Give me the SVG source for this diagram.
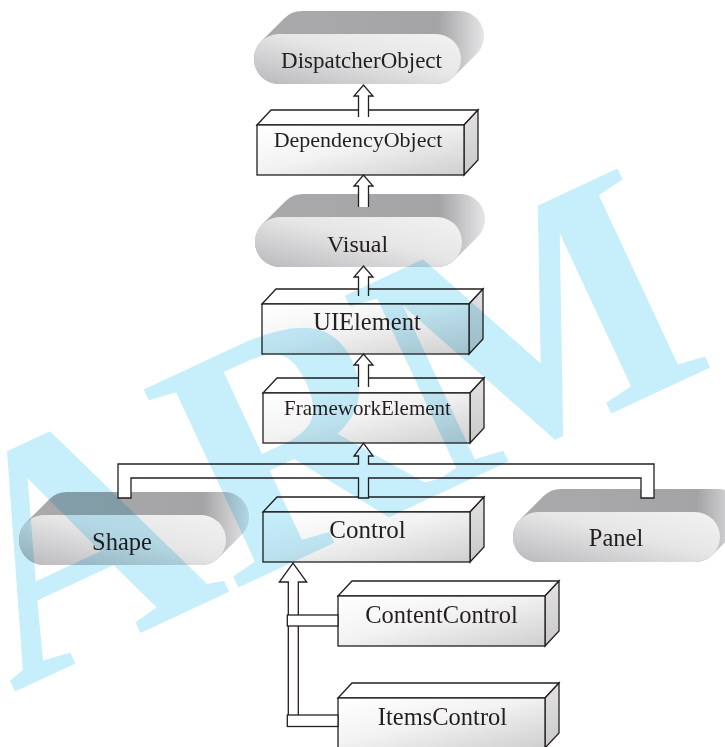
<svg xmlns="http://www.w3.org/2000/svg" width="725" height="747" viewBox="0 0 725 747">
<defs>
<style>
.lbl{font-family:"Liberation Serif","Times New Roman",serif;fill:#231f20;text-anchor:middle}
.edge{stroke:#231f20;stroke-width:1.3;stroke-linejoin:miter}
.conn{fill:#ffffff;stroke:#231f20;stroke-width:1.3;stroke-linejoin:miter}
.wm{font-family:"Liberation Serif","Times New Roman",serif;font-weight:bold;fill:#c6eefb;mix-blend-mode:multiply}
</style>
<linearGradient id="pillBack" x1="0" y1="0" x2="1" y2="0">
<stop offset="0" stop-color="#aaaaac"/>
<stop offset="0.8" stop-color="#a4a4a6"/>
<stop offset="1" stop-color="#e6e6e7"/>
</linearGradient>
<linearGradient id="pillFront" x1="0" y1="1" x2="1" y2="0">
<stop offset="0" stop-color="#b9b9bb"/>
<stop offset="0.55" stop-color="#e6e6e7"/>
<stop offset="1" stop-color="#f2f2f2"/>
</linearGradient>
<linearGradient id="boxFront" x1="0" y1="0" x2="1" y2="1">
<stop offset="0" stop-color="#ffffff"/>
<stop offset="0.45" stop-color="#f3f3f3"/>
<stop offset="1" stop-color="#cfcfd0"/>
</linearGradient>
<linearGradient id="boxSide" x1="0" y1="0" x2="0" y2="1">
<stop offset="0" stop-color="#e2e2e2"/>
<stop offset="1" stop-color="#c9c9ca"/>
</linearGradient>
<g id="pill">
<path fill="url(#pillBack)" d="M7.32,7.32 L30.32,-15.68 A25,25 0 0 1 48,-23 L205,-23 A25,25 0 0 1 222.68,19.68 L199.68,42.68 A25,25 0 0 1 182,50 L25,50 A25,25 0 0 1 7.32,7.32 Z"/>
<rect x="0" y="0" width="207" height="50" rx="25" ry="25" fill="url(#pillFront)"/>
</g>
<g id="box">
<polygon class="edge" fill="#ffffff" points="0,0 14,-15 221,-15 207,0"/>
<polygon class="edge" fill="url(#boxSide)" points="207,0 221,-15 221,35 207,50"/>
<rect class="edge" x="0" y="0" width="207" height="50" fill="url(#boxFront)"/>
</g>
</defs>
<rect width="725" height="747" fill="#ffffff"/>
<g id="DispatcherObject">
<use href="#pill" transform="translate(254,34)"/>
<text class="lbl" x="361.5" y="68" font-size="23">DispatcherObject</text>
</g>
<g id="DependencyObject">
<use href="#box" transform="translate(257,125)"/>
<text class="lbl" x="358" y="147" font-size="22">DependencyObject</text>
</g>
<g id="Visual">
<use href="#pill" transform="translate(255,217)"/>
<text class="lbl" x="357.5" y="252" font-size="24">Visual</text>
</g>
<g id="UIElement">
<use href="#box" transform="translate(262,304)"/>
<text class="lbl" x="367" y="330" font-size="24.5">UIElement</text>
</g>
<g id="FrameworkElement">
<use href="#box" transform="translate(263,393)"/>
<text class="lbl" x="367.5" y="415" font-size="21">FrameworkElement</text>
</g>
<g id="Shape">
<use href="#pill" transform="translate(19,515)"/>
<text class="lbl" x="122" y="550" font-size="24.5">Shape</text>
</g>
<g id="Control">
<use href="#box" transform="translate(263,512)"/>
<text class="lbl" x="367.5" y="538" font-size="25">Control</text>
</g>
<g id="Panel">
<use href="#pill" transform="translate(513,512)"/>
<text class="lbl" x="616" y="546" font-size="24.5">Panel</text>
</g>
<g id="ContentControl">
<use href="#box" transform="translate(338,596)"/>
<text class="lbl" x="441.5" y="623" font-size="24.5">ContentControl</text>
</g>
<g id="ItemsControl">
<use href="#box" transform="translate(338,698)"/>
<text class="lbl" x="442.5" y="725" font-size="24.5">ItemsControl</text>
</g>
<g id="connectors">
<path class="conn" d="M358.5,117 V96 H354 L363.5,85 L373,96 H368.5 V117"/>
<path class="conn" d="M358.5,207 V186 H354 L363.5,175 L373,186 H368.5 V207"/>
<path class="conn" d="M358.5,296 V277 H354 L363.5,266 L373,277 H368.5 V296"/>
<path class="conn" d="M358.5,387 V365 H354 L363.5,354 L373,365 H368.5 V387"/>
<polygon class="conn" points="118,498 118,464 358.5,464 358.5,456 354,456 363.5,443 373,456 368.5,456 368.5,464 654,464 654,498 641,498 641,478 368.5,478 368.5,498 358.5,498 358.5,478 131,478 131,498"/>
<path class="conn" d="M288.3,716 V582 H279.3 L293,563 L306.7,582 H298.3 V716"/>
<rect class="conn" x="287.3" y="615" width="50.7" height="11"/>
<rect class="conn" x="287.3" y="715" width="50.7" height="11.5"/>
</g>
<text class="wm" transform="translate(12,693) rotate(-25)" font-size="335">AR<tspan dx="-20">M</tspan></text>
</svg>
